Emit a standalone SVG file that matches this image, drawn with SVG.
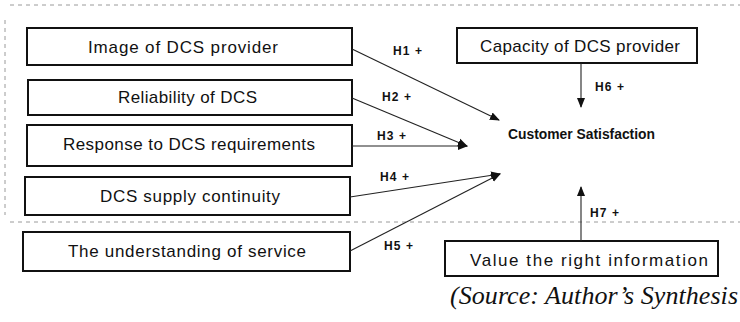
<svg xmlns="http://www.w3.org/2000/svg" width="740" height="322" viewBox="0 0 740 322">
<style>
.frame{fill:none;stroke:#9a9a9a;stroke-width:1;stroke-dasharray:4 4}
.box{fill:#fff;stroke:#111;stroke-width:2}
.t{font-family:"Liberation Sans",Arial,sans-serif;font-size:17px;fill:#111}
.h{font-family:"Liberation Sans",Arial,sans-serif;font-size:12px;font-weight:bold;fill:#111}
.cs{font-family:"Liberation Sans",Arial,sans-serif;font-size:14px;font-weight:bold;fill:#111}
.src{font-family:"Liberation Serif","Times New Roman",serif;font-size:26px;font-style:italic;fill:#111}
.c{stroke:#222;stroke-width:1.1;fill:none;marker-end:url(#ah)}
</style>
<defs>
<marker id="ah" viewBox="0 0 10 10" refX="9" refY="5" markerWidth="10" markerHeight="10" markerUnits="userSpaceOnUse" orient="auto">
<path d="M0,1 L10,5 L0,9 z" fill="#111"/>
</marker>
</defs>
<rect width="740" height="322" fill="#fff"/>
<g id="frame">
<line class="frame" x1="10" y1="5" x2="740" y2="5"/>
<line class="frame" x1="10" y1="222" x2="740" y2="222"/>
<line class="frame" x1="5" y1="20" x2="5" y2="215" stroke-dasharray="1 20"/>
</g>
<g id="n1"><rect class="box" x="27" y="28" width="325" height="37"/><text class="t" x="88" y="53" textLength="190" lengthAdjust="spacing">Image of DCS provider</text></g>
<g id="n2"><rect class="box" x="28" y="80" width="324" height="35"/><text class="t" x="118" y="103" textLength="139" lengthAdjust="spacing">Reliability of DCS</text></g>
<g id="n3"><rect class="box" x="27" y="125" width="325" height="41"/><text class="t" x="63" y="150" textLength="252" lengthAdjust="spacing">Response to DCS requirements</text></g>
<g id="n4"><rect class="box" x="25" y="177" width="325" height="38"/><text class="t" x="100" y="202" textLength="180" lengthAdjust="spacing">DCS supply continuity</text></g>
<g id="n5"><rect class="box" x="23" y="232" width="327" height="39"/><text class="t" x="68" y="257" textLength="238" lengthAdjust="spacing">The understanding of service</text></g>
<g id="n6"><rect class="box" x="457" y="28" width="240" height="35"/><text class="t" x="480" y="52" textLength="200" lengthAdjust="spacing">Capacity of DCS provider</text></g>
<g id="n7"><rect class="box" x="445" y="241" width="273" height="35"/><text class="t" x="470" y="266" textLength="238" lengthAdjust="spacing">Value the right information</text></g>
<g id="cs"><text class="cs" x="508" y="139" textLength="147" lengthAdjust="spacingAndGlyphs">Customer Satisfaction</text></g>
<g id="connectors">
<line class="c" x1="352" y1="49" x2="499" y2="120"/>
<line class="c" x1="352" y1="98" x2="467" y2="146"/>
<line class="c" x1="352" y1="146" x2="467" y2="146"/>
<line class="c" x1="350" y1="197" x2="500" y2="174"/>
<line class="c" x1="350" y1="251" x2="500" y2="174"/>
<line class="c" x1="581" y1="63" x2="581" y2="107"/>
<line class="c" x1="581" y1="241" x2="581" y2="187"/>
<text class="h" x="393" y="55" textLength="29" lengthAdjust="spacing">H1 +</text>
<text class="h" x="382" y="101" textLength="29" lengthAdjust="spacing">H2 +</text>
<text class="h" x="377" y="140" textLength="29" lengthAdjust="spacing">H3 +</text>
<text class="h" x="380" y="181" textLength="29" lengthAdjust="spacing">H4 +</text>
<text class="h" x="384" y="250" textLength="29" lengthAdjust="spacing">H5 +</text>
<text class="h" x="595" y="91" textLength="29" lengthAdjust="spacing">H6 +</text>
<text class="h" x="590" y="217" textLength="29" lengthAdjust="spacing">H7 +</text>
</g>
<text class="src" x="450" y="304" textLength="288" lengthAdjust="spacing">(Source: Author’s Synthesis</text>
</svg>
